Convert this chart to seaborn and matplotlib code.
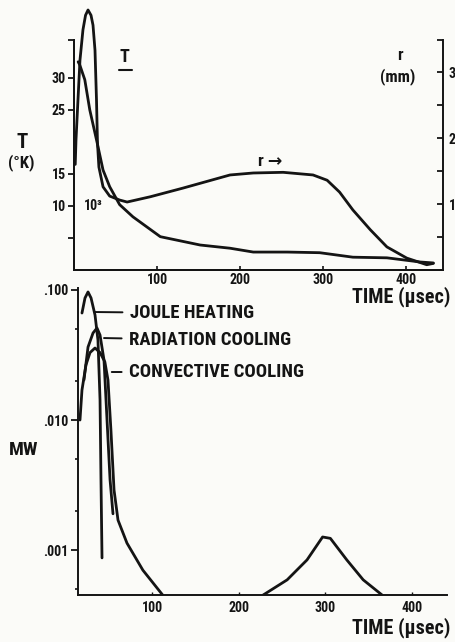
import numpy as np
import pandas as pd
import matplotlib
matplotlib.use("Agg")
import matplotlib.pyplot as plt
import seaborn as sns
from matplotlib import font_manager
from matplotlib.ticker import FixedLocator, LogLocator, NullFormatter


# Top panel: arc temperature T (10^3 K) and arc radius r (mm) vs time (usec)
t_T = [5, 7, 13, 19, 28, 35, 43, 55, 71, 104, 152, 188, 216, 257, 296, 336, 377, 417, 433]
T_vals = [32.5, 32.0, 29.7, 25.0, 19.8, 15.6, 13.0, 10.2, 8.3, 5.2, 3.9, 3.4, 2.8, 2.8, 2.7,
          2.0, 1.9, 1.25, 1.1]

t_r = [1.5, 2.4, 4.8, 7.2, 10.8, 13.9, 16.9, 20.5, 22.9, 25.3, 27.1, 28.3, 30, 35, 43, 55,
       64, 92, 131, 188, 216, 252, 288, 305, 320, 336, 357, 377, 401, 425, 433]
r_vals = [1.6, 1.97, 2.58, 3.18, 3.64, 3.86, 3.94, 3.86, 3.71, 3.33, 2.58, 1.92, 1.56, 1.26,
          1.12, 1.06, 1.03, 1.11, 1.24, 1.44, 1.47, 1.48, 1.44, 1.36, 1.18, 0.91, 0.61, 0.35,
          0.18, 0.08, 0.1]

# Bottom panel: power (MW), log scale
t_joule = [18.5, 22, 25.5, 29, 33.6, 37, 39.4, 40.5, 41.7]
joule = [0.0665, 0.0868, 0.0966, 0.0868, 0.0642, 0.0412, 0.0143, 0.00347, 0.00087]

t_joule_late = [228, 256, 279, 297, 306, 325, 344, 366]
joule_late = [0.00045, 0.00059, 0.00084, 0.00126, 0.00123, 0.00084, 0.00059, 0.00045]

t_rad = [20.8, 25.5, 31.3, 35.9, 39.4, 44, 47.5, 51, 54.4]
rad = [0.0203, 0.0364, 0.0467, 0.051, 0.045, 0.0289, 0.01, 0.00347, 0.0019]

t_conv = [16.2, 18.5, 23.1, 27.8, 33.6, 39.4, 45, 48.6, 52, 55.6, 60.2, 70.6, 89, 112]
conv = [0.01, 0.017, 0.0265, 0.033, 0.0358, 0.033, 0.028, 0.0203, 0.0084, 0.0029, 0.0017,
        0.00113, 0.0007, 0.00045]

time_ticks = [100, 200, 300, 400]
time_labels = ["100", "200", "300", "400"]
T_ticks = [5, 10, 15, 25, 30]
T_labels = ["", "10", "15", "25", "30"]
r_ticks = [1, 2, 3]
r_labels = ["1", "2", "3"]
mw_ticks = [0.001, 0.01, 0.1]
mw_labels = [".001", ".010", ".100"]

sns.set_theme(style="ticks")

# narrow bold face looks closest to the typewriter-era lettering
installed = {f.name for f in font_manager.fontManager.ttflist}
narrow = [n for n in ["Liberation Sans Narrow", "DejaVu Sans Condensed", "Roboto Condensed",
                      "Open Sans Condensed"] if n in installed]
plt.rcParams['font.family'] = narrow + ['DejaVu Sans']
plt.rcParams['font.weight'] = 'bold'
if not narrow:
    plt.rcParams['font.stretch'] = 'condensed'
scale = 1.0 if narrow else 0.85

ink = "#141414"
bg = "#fbfbf8"
lw = 2.0

fig = plt.figure(figsize=(4.55, 6.42), dpi=100, facecolor=bg)
W, H = 455, 642


def fx(px):
    return px / W


def fy(py):
    return 1 - py / H


# ---- top panel ----
ax = fig.add_axes([fx(74), fy(270), fx(443) - fx(74), fy(40) - fy(270)])
ax.set_facecolor(bg)
ax2 = ax.twinx()

dT = pd.DataFrame({"time": t_T, "T": T_vals})
dr = pd.DataFrame({"time": t_r, "r": r_vals})
sns.lineplot(data=dT, x="time", y="T", ax=ax, color=ink, lw=lw, estimator=None, sort=False)
sns.lineplot(data=dr, x="time", y="r", ax=ax2, color=ink, lw=lw, estimator=None, sort=False)
for ln in ax.lines + ax2.lines:
    ln.set_clip_on(False)

ax.set_xlim(0, 444.6)
ax.set_ylim(0, 35.9)
ax2.set_ylim(0, 3.485)
ax.set_xlabel("")
ax.set_ylabel("")
ax2.set_ylabel("")

tick_fs = 10 * scale
ax.xaxis.set_major_locator(FixedLocator(time_ticks))
ax.set_xticklabels(time_labels)
ax.yaxis.set_major_locator(FixedLocator(T_ticks + [35.9]))
ax.set_yticklabels(T_labels + [""])
ax2.yaxis.set_major_locator(FixedLocator(r_ticks))
ax2.set_yticklabels(r_labels)
ax2.yaxis.set_minor_locator(FixedLocator([0.5, 1.5, 2.5, 3.485]))

ax.tick_params(axis="x", direction="in", length=3, width=1.2, pad=2, labelsize=tick_fs, colors=ink)
ax.tick_params(axis="y", direction="out", length=4, width=1.3, pad=2, labelsize=tick_fs, colors=ink)
ax2.tick_params(axis="y", which="both", direction="in", length=4, width=1.3, pad=4,
                labelsize=tick_fs, colors=ink)

for a in (ax, ax2):
    for s in ("left", "right", "bottom"):
        a.spines[s].set_color(ink)
        a.spines[s].set_linewidth(1.4)
    a.spines["top"].set_visible(False)
ax.spines["right"].set_visible(False)

ax.text(12, 10, "10³", fontsize=tick_fs, color=ink, ha="left", va="center")
ax.text(61, 33.2, "T", fontsize=13 * scale, color=ink, ha="center", va="center")
fig.add_artist(plt.Line2D([fx(119), fx(132)], [fy(70), fy(70)], color=ink, lw=1.5))
ax2.text(236, 1.64, "r →", fontsize=12.5 * scale, color=ink, ha="center", va="center")

fig.text(fx(400), fy(55), "r", fontsize=12 * scale, color=ink, ha="center", va="center")
fig.text(fx(398), fy(77), "(mm)", fontsize=12 * scale, color=ink, ha="center", va="center")
fig.text(fx(22), fy(143), "T", fontsize=15 * scale, color=ink, ha="center", va="center")
fig.text(fx(21), fy(163), "(°K)", fontsize=12 * scale, color=ink, ha="center", va="center")
fig.text(fx(352), fy(297), "TIME (µsec)", fontsize=14.5 * scale, color=ink, ha="left", va="center")

# ---- bottom panel ----
bx = fig.add_axes([fx(78), fy(595), fx(447) - fx(78), fy(288) - fy(595)])
bx.set_facecolor((0, 0, 0, 0))

for tt, vv in [(t_joule, joule), (t_joule_late, joule_late), (t_rad, rad), (t_conv, conv)]:
    d = pd.DataFrame({"time": tt, "mw": vv})
    sns.lineplot(data=d, x="time", y="mw", ax=bx, color=ink, lw=lw, estimator=None, sort=False)

bx.set_yscale("log")
bx.set_xlim(13.9, 441)
bx.set_ylim(4.51e-4, 0.1036)
bx.set_xlabel("")
bx.set_ylabel("")
bx.xaxis.set_major_locator(FixedLocator(time_ticks))
bx.set_xticklabels(time_labels)
bx.yaxis.set_major_locator(FixedLocator(mw_ticks))
bx.set_yticklabels(mw_labels)
bx.yaxis.set_minor_locator(LogLocator(base=10, subs=(2, 5)))
bx.yaxis.set_minor_formatter(NullFormatter())
bx.tick_params(axis="x", direction="in", length=2, width=1.0, pad=4, labelsize=tick_fs, colors=ink)
bx.tick_params(axis="y", which="major", direction="out", length=5, width=1.3, pad=2,
               labelsize=tick_fs, colors=ink)
bx.tick_params(axis="y", which="minor", direction="out", length=2, width=1.2, colors=ink)
for s in ("left", "bottom"):
    bx.spines[s].set_color(ink)
    bx.spines[s].set_linewidth(1.4)
for s in ("top", "right"):
    bx.spines[s].set_visible(False)

labels = [("JOULE HEATING", (33.6, 0.0677), (74, 0.0665)),
          ("RADIATION COOLING", (44, 0.0427), (73, 0.0412)),
          ("CONVECTIVE COOLING", (53, 0.0234), (73, 0.0234))]
for txt, xy, xyt in labels:
    bx.annotate(txt, xy=xy, xytext=xyt, fontsize=13.5 * scale, color=ink, ha="left", va="center",
                arrowprops=dict(arrowstyle="-", color=ink, lw=1.4, shrinkA=3, shrinkB=0))

fig.text(fx(24), fy(450), "MW", fontsize=14 * scale, color=ink, ha="center", va="center")
fig.text(fx(352), fy(628), "TIME (µsec)", fontsize=14.5 * scale, color=ink, ha="left", va="center")

fig.savefig("out.png", dpi=100, facecolor=bg)
